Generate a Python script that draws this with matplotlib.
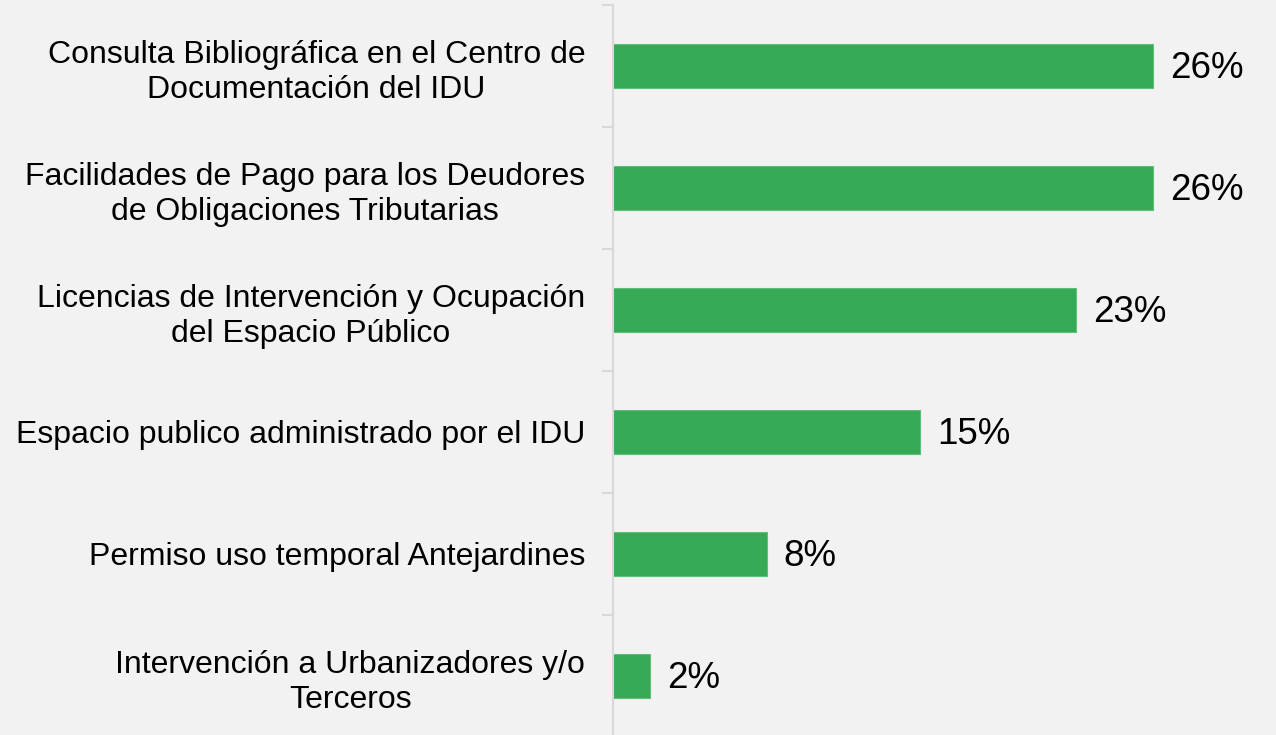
import matplotlib.pyplot as plt
import numpy as np

plt.rcParams['font.family'] = ['Liberation Sans', 'DejaVu Sans']

categorias = [
    'Consulta Bibliográfica en el Centro de\nDocumentación del IDU',
    'Facilidades de Pago para los Deudores\nde Obligaciones Tributarias',
    'Licencias de Intervención y Ocupación\ndel Espacio Público',
    'Espacio publico administrado por el IDU',
    'Permiso uso temporal Antejardines',
    'Intervención a Urbanizadores y/o\nTerceros',
]
valores = [26.0, 26.0, 22.3, 14.8, 7.4, 1.8]
etiquetas = ['26%', '26%', '23%', '15%', '8%', '2%']

fondo = '#f2f2f2'
verde = '#36a957'

fig = plt.figure(figsize=(12.76, 7.35), dpi=100, facecolor=fondo)
ax = fig.add_axes([613 / 1276, -2 / 735, 663 / 1276, 732 / 735])
ax.set_facecolor(fondo)

y = np.arange(len(categorias))
ax.barh(y, valores, height=0.36, color=verde, edgecolor='#5cc07a', linewidth=0.8)

for yi, v, lab in zip(y, valores, etiquetas):
    ax.text(v + 0.8, yi + 0.02, lab, va='center', ha='left', fontsize=26.5, color='black')

ax.set_xlim(0, 663 / 20.77)
ax.set_ylim(len(categorias) - 0.5, -0.5)

# etiquetas de categorias
ax.set_yticks(y)
ax.set_yticklabels(categorias, fontsize=23, multialignment='center', linespacing=1.25)
ax.tick_params(axis='y', which='major', length=0, pad=20)
ax.set_yticks(np.arange(-0.5, len(categorias)), minor=True)
ax.tick_params(axis='y', which='minor', length=8, color='#d9d9d9', width=1.5)

ax.set_xticks([])
for s in ['top', 'right', 'bottom']:
    ax.spines[s].set_visible(False)
ax.spines['left'].set_color('#d9d9d9')
ax.spines['left'].set_linewidth(1.5)

fig.savefig('out.png', dpi=100, facecolor=fondo)
